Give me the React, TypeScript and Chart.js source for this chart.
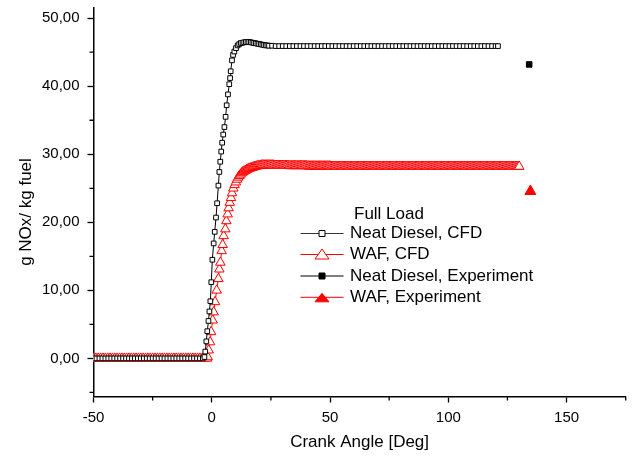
import React, { useEffect, useRef } from 'react';
import { Chart, registerables } from 'chart.js';

Chart.register(...registerables);

const FONT = "'Liberation Sans', Arial, Helvetica, sans-serif";

// ---- Neat Diesel, CFD ----
const ndCfdAngle = [
  -50, -48.75, -47.5, -46.25, -45, -43.75, -42.5, -41.25, -40, -38.75,
  -37.5, -36.25, -35, -33.75, -32.5, -31.25, -30, -28.75, -27.5, -26.25,
  -25, -23.75, -22.5, -21.25, -20, -18.75, -17.5, -16.25, -15, -13.75,
  -12.5, -11.25, -10, -8.75, -7.5, -6.25, -5, -3.75,
  -3.1, -2.75, -2.3, -1.9, -1.4, -1.0, -0.6, -0.2, 0.25, 0.8,
  1.25, 1.8, 2.25, 2.8, 3.2, 3.6, 4.0, 4.4, 4.85, 5.35,
  5.85, 6.3, 6.85, 7.4, 7.75, 8.0, 8.55, 9.0, 9.55, 10.25, 10.95,
  11.6, 12.3, 13.0, 13.7, 14.4, 15.1, 15.8, 16.5, 17.2, 17.9,
  18.6, 19.3, 20.0, 20.7, 21.4, 22.1, 22.8, 23.5, 24.2, 25.5, 27,
  28.5, 30, 31.5, 33, 34.5, 36, 37.5, 39, 40.5, 42,
  43.5, 45, 46.5, 48, 49.5, 51, 52.5, 54, 55.5, 57,
  58.5, 60, 61.5, 63, 64.5, 66, 67.5, 69, 70.5, 72,
  73.5, 75, 76.5, 78, 79.5, 81, 82.5, 84, 85.5, 87,
  88.5, 90, 91.5, 93, 94.5, 96, 97.5, 99, 100.5, 102,
  103.5, 105, 106.5, 108, 109.5, 111, 112.5, 114, 115.5, 117,
  118.5, 120, 121,
];
const ndCfdNox = [
  0, 0, 0, 0, 0, 0, 0, 0, 0, 0,
  0, 0, 0, 0, 0, 0, 0, 0, 0, 0,
  0, 0, 0, 0, 0, 0, 0, 0, 0, 0,
  0, 0, 0, 0, 0, 0, 0, 0,
  0.2, 1.0, 2.5, 4.0, 5.5, 6.9, 8.4, 11.2, 14.5, 16.9,
  18.6, 20.7, 22.8, 25.4, 27.4, 28.9, 30.4, 31.7, 32.9, 34.0,
  35.5, 37.2, 38.8, 40.3, 41.2, 42.2, 43.8, 44.6, 45.1, 45.6, 46.0,
  46.2, 46.35, 46.4, 46.45, 46.5, 46.5, 46.5, 46.45, 46.4, 46.35,
  46.3, 46.25, 46.2, 46.15, 46.1, 46.05, 46.0, 46.0, 45.95, 45.95, 45.9,
  45.9, 45.9, 45.9, 45.9, 45.9, 45.9, 45.9, 45.9, 45.9, 45.9,
  45.9, 45.9, 45.9, 45.9, 45.9, 45.9, 45.9, 45.9, 45.9, 45.9,
  45.9, 45.9, 45.9, 45.9, 45.9, 45.9, 45.9, 45.9, 45.9, 45.9,
  45.9, 45.9, 45.9, 45.9, 45.9, 45.9, 45.9, 45.9, 45.9, 45.9,
  45.9, 45.9, 45.9, 45.9, 45.9, 45.9, 45.9, 45.9, 45.9, 45.9,
  45.9, 45.9, 45.9, 45.9, 45.9, 45.9, 45.9, 45.9, 45.9, 45.9,
  45.9, 45.9, 45.9,
];

// ---- WAF, CFD ----
const wafCfdAngle = [
  -50, -49, -48, -47, -46, -45, -44, -43, -42, -41,
  -40, -39, -38, -37, -36, -35, -34, -33, -32, -31,
  -30, -29, -28, -27, -26, -25, -24, -23, -22, -21,
  -20, -19, -18, -17, -16, -15, -14, -13, -12, -11,
  -10, -9, -8, -7, -6, -5, -4, -3, -2,
  -1.7, -1.3, -0.7, -0.28, 0.38, 0.8, 1.39, 2.07, 2.79, 3.21,
  3.63, 4.18, 4.6, 5.03, 5.74, 6.17, 6.72, 7.14, 7.6, 8.15,
  8.57, 9.12, 9.67, 10.2, 10.7, 11.2, 11.7, 12.2, 12.7, 13.2,
  13.7, 14.2, 14.7, 15.2, 15.7, 16.2, 16.7, 17.2,
  17.5, 18, 18.5, 19, 19.5, 20, 20.5, 21, 21.5, 22,
  22.5, 23, 23.5, 24, 24.5, 25, 25.5, 26, 26.5, 27,
  27.5, 28, 28.5, 29, 29.5, 30, 30.5, 31, 31.5, 32,
  32.5, 33, 33.5, 34, 34.5, 35, 35.5, 36, 36.5, 37,
  37.5, 38, 38.5, 39, 39.5, 40, 40.5, 41, 41.5, 42,
  42.5, 43, 43.5, 44, 44.5, 45, 45.5, 46, 46.5, 47,
  47.5, 48, 48.5, 49, 49.5, 50, 50.5, 51, 51.5, 52,
  52.5, 53, 53.5, 54, 54.5, 55, 55.5, 56, 56.5, 57,
  57.5, 58, 58.5, 59, 59.5, 60, 60.5, 61, 61.5, 62,
  62.5, 63, 63.5, 64, 64.5, 65, 65.5, 66, 66.5, 67,
  67.5, 68, 68.5, 69, 69.5, 70, 70.5, 71, 71.5, 72,
  72.5, 73, 73.5, 74, 74.5, 75, 75.5, 76, 76.5, 77,
  77.5, 78, 78.5, 79, 79.5, 80, 80.5, 81, 81.5, 82,
  82.5, 83, 83.5, 84, 84.5, 85, 85.5, 86, 86.5, 87,
  87.5, 88, 88.5, 89, 89.5, 90, 90.5, 91, 91.5, 92,
  92.5, 93, 93.5, 94, 94.5, 95, 95.5, 96, 96.5, 97,
  97.5, 98, 98.5, 99, 99.5, 100, 100.5, 101, 101.5, 102,
  102.5, 103, 103.5, 104, 104.5, 105, 105.5, 106, 106.5, 107,
  107.5, 108, 108.5, 109, 109.5, 110, 110.5, 111, 111.5, 112,
  112.5, 113, 113.5, 114, 114.5, 115, 115.5, 116, 116.5, 117,
  117.5, 118, 118.5, 119, 119.5, 120, 120.5, 121, 121.5, 122,
  122.5, 123, 123.5, 124, 124.5, 125, 125.5, 126, 126.5, 127,
  127.5, 128, 128.5, 129, 129.5, 130, 130.5, 131, 131.5, 132,
  132.5, 133, 133.5, 134, 134.5, 135,
];
const wafCfdNox = [
  0, 0, 0, 0, 0, 0, 0, 0, 0, 0,
  0, 0, 0, 0, 0, 0, 0, 0, 0, 0,
  0, 0, 0, 0, 0, 0, 0, 0, 0, 0,
  0, 0, 0, 0, 0, 0, 0, 0, 0, 0,
  0, 0, 0, 0, 0, 0, 0, 0, 0,
  0.2, 1.2, 2.4, 3.9, 5.6, 6.8, 8.3, 10.0, 11.7, 13.1,
  14.1, 15.8, 16.7, 18.0, 19.0, 20.2, 21.2, 22.1, 22.9, 23.6,
  24.3, 25.0, 25.5, 25.9, 26.3, 26.6, 26.85, 27.05, 27.25, 27.4,
  27.5, 27.6, 27.7, 27.8, 27.9, 27.95, 28.0, 28.05,
  28.1, 28.15, 28.2, 28.25, 28.3, 28.3, 28.35, 28.4, 28.4, 28.4,
  28.4, 28.4, 28.4, 28.4, 28.4, 28.4, 28.4, 28.4, 28.35, 28.35,
  28.35, 28.35, 28.35, 28.35, 28.35, 28.35, 28.35, 28.35, 28.35, 28.35,
  28.3, 28.3, 28.3, 28.3, 28.3, 28.3, 28.3, 28.3, 28.3, 28.3,
  28.3, 28.3, 28.3, 28.3, 28.3, 28.3, 28.25, 28.25, 28.25, 28.25,
  28.25, 28.25, 28.25, 28.25, 28.25, 28.25, 28.25, 28.25, 28.25, 28.25,
  28.25, 28.25, 28.25, 28.25, 28.25, 28.25, 28.2, 28.2, 28.2, 28.2,
  28.2, 28.2, 28.2, 28.2, 28.2, 28.2, 28.2, 28.2, 28.2, 28.2,
  28.2, 28.2, 28.2, 28.2, 28.2, 28.2, 28.2, 28.2, 28.2, 28.2,
  28.2, 28.2, 28.2, 28.2, 28.2, 28.2, 28.2, 28.2, 28.2, 28.2,
  28.2, 28.2, 28.2, 28.2, 28.2, 28.2, 28.2, 28.2, 28.2, 28.2,
  28.2, 28.2, 28.2, 28.2, 28.2, 28.2, 28.2, 28.2, 28.2, 28.2,
  28.2, 28.2, 28.2, 28.2, 28.2, 28.2, 28.2, 28.2, 28.2, 28.2,
  28.2, 28.2, 28.2, 28.2, 28.2, 28.2, 28.2, 28.2, 28.2, 28.2,
  28.2, 28.2, 28.2, 28.2, 28.2, 28.2, 28.2, 28.2, 28.2, 28.2,
  28.2, 28.2, 28.2, 28.2, 28.2, 28.2, 28.2, 28.2, 28.2, 28.2,
  28.2, 28.2, 28.2, 28.2, 28.2, 28.2, 28.2, 28.2, 28.2, 28.2,
  28.2, 28.2, 28.2, 28.2, 28.2, 28.2, 28.2, 28.2, 28.2, 28.2,
  28.2, 28.2, 28.2, 28.2, 28.2, 28.2, 28.2, 28.2, 28.2, 28.2,
  28.2, 28.2, 28.2, 28.2, 28.2, 28.2, 28.2, 28.2, 28.2, 28.2,
  28.2, 28.2, 28.2, 28.2, 28.2, 28.2, 28.2, 28.2, 28.2, 28.2,
  28.2, 28.2, 28.2, 28.2, 28.2, 28.2, 28.2, 28.2, 28.2, 28.2,
  28.2, 28.2, 28.2, 28.2, 28.2, 28.2,
];

// ---- Experiments ----
const ndExpAngle = [134.2];
const ndExpNox = [43.2];
const wafExpAngle = [134.7];
const wafExpNox = [24.55];

// ---- Axes / text ----
const xMajorTicks = [-50, 0, 50, 100, 150];
const xMinorTicks = [-25, 25, 75, 125, 175];
const yMajorTicks = [0, 10, 20, 30, 40, 50];
const yMinorTicks = [-5, 5, 15, 25, 35, 45];
const xTitle = 'Crank Angle [Deg]';
const yTitle = 'g NOx/ kg fuel';
const legendTitle = 'Full Load';
const seriesLabels = ['Neat Diesel, CFD', 'WAF, CFD', 'Neat Diesel, Experiment', 'WAF, Experiment'];

const toPoints = (xs: number[], ys: number[]) => xs.map((x, i) => ({ x, y: ys[i] }));

const decorPlugin = {
  id: 'decor',
  afterDraw(chart: any) {
    const { ctx, scales } = chart;
    const xs = scales.x;
    const ys = scales.y;
    ctx.save();
    // minor ticks
    ctx.strokeStyle = '#000';
    ctx.lineWidth = 1.3;
    ctx.beginPath();
    xMinorTicks.forEach((v) => {
      const p = xs.getPixelForValue(v);
      ctx.moveTo(p, xs.top);
      ctx.lineTo(p, xs.top + 4);
    });
    yMinorTicks.forEach((v) => {
      const p = ys.getPixelForValue(v);
      ctx.moveTo(ys.right, p);
      ctx.lineTo(ys.right - 4, p);
    });
    ctx.stroke();
    ctx.restore();

    // y title
    ctx.save();
    ctx.fillStyle = '#000';
    ctx.font = `17px ${FONT}`;
    ctx.translate(26, 212);
    ctx.rotate(-Math.PI / 2);
    ctx.textAlign = 'center';
    ctx.textBaseline = 'middle';
    ctx.fillText(yTitle, 0, 0);
    ctx.restore();

    // legend
    ctx.save();
    ctx.font = `17px ${FONT}`;
    ctx.fillStyle = '#000';
    ctx.textBaseline = 'middle';
    ctx.textAlign = 'left';
    ctx.fillText(legendTitle, 354, 214);
    const rowY = [233.5, 254.5, 276, 297.3];
    const styles = [
      { line: '#333', stroke: '#000', fill: '#fff', shape: 'square' },
      { line: '#ff0000', stroke: '#ff0000', fill: '#fff', shape: 'tri' },
      { line: '#000', stroke: '#000', fill: '#000', shape: 'square' },
      { line: '#ff0000', stroke: '#ff0000', fill: '#ff0000', shape: 'tri' },
    ];
    const mx = 322;
    seriesLabels.forEach((label, i) => {
      const y = rowY[i];
      const st = styles[i];
      ctx.strokeStyle = st.line;
      ctx.lineWidth = 1;
      ctx.beginPath();
      ctx.moveTo(300.5, y);
      ctx.lineTo(343.5, y);
      ctx.stroke();
      ctx.beginPath();
      if (st.shape === 'square') {
        ctx.rect(mx - 3, y - 3, 6, 6);
      } else if (i === 1) {
        ctx.moveTo(mx, y - 5.5);
        ctx.lineTo(mx + 7, y + 4.5);
        ctx.lineTo(mx - 7, y + 4.5);
        ctx.closePath();
      } else {
        ctx.moveTo(mx, y - 4);
        ctx.lineTo(mx + 7, y + 4.5);
        ctx.lineTo(mx - 7, y + 4.5);
        ctx.closePath();
      }
      ctx.fillStyle = st.fill;
      ctx.fill();
      ctx.strokeStyle = st.stroke;
      ctx.lineWidth = 1;
      ctx.stroke();
      ctx.fillStyle = '#000';
      ctx.fillText(label, 350, y);
    });
    ctx.restore();
  },
};

export default function App() {
  const canvasRef = useRef<HTMLCanvasElement | null>(null);

  useEffect(() => {
    document.body.style.margin = '0';
    const canvas = canvasRef.current;
    if (!canvas) return;
    const chart = new Chart(canvas, {
      type: 'scatter',
      data: {
        datasets: [
          {
            label: seriesLabels[0],
            data: toPoints(ndCfdAngle, ndCfdNox),
            showLine: true,
            borderColor: '#000',
            borderWidth: 1,
            pointStyle: 'rect',
            pointRadius: 3.3,
            pointHoverRadius: 3.3,
            pointBackgroundColor: '#fff',
            pointBorderColor: '#000',
            pointBorderWidth: 1,
          },
          {
            label: seriesLabels[1],
            data: toPoints(wafCfdAngle, wafCfdNox),
            showLine: true,
            borderColor: '#ff0000',
            borderWidth: 1,
            pointStyle: 'triangle',
            pointRadius: 5.5,
            pointHoverRadius: 5.5,
            pointBackgroundColor: '#fff',
            pointBorderColor: '#ff0000',
            pointBorderWidth: 1,
          },
          {
            label: seriesLabels[2],
            data: toPoints(ndExpAngle, ndExpNox),
            showLine: false,
            pointStyle: 'rect',
            pointRadius: 3.9,
            pointHoverRadius: 3.9,
            pointBackgroundColor: '#000',
            pointBorderColor: '#000',
            pointBorderWidth: 1,
          },
          {
            label: seriesLabels[3],
            data: toPoints(wafExpAngle, wafExpNox),
            showLine: false,
            pointStyle: 'triangle',
            pointRadius: 6.3,
            pointHoverRadius: 6.3,
            pointBackgroundColor: '#ff0000',
            pointBorderColor: '#ff0000',
            pointBorderWidth: 1,
          },
        ],
      },
      options: {
        responsive: false,
        animation: false,
        devicePixelRatio: 1,
        events: [],
        layout: { padding: { top: 5, right: 6.3, left: 0, bottom: 0 } },
        plugins: {
          legend: { display: false },
          tooltip: { enabled: false },
        },
        scales: {
          x: {
            type: 'linear',
            min: -50,
            max: 175,
            afterBuildTicks: (s: any) => {
              s.ticks = xMajorTicks.map((v) => ({ value: v }));
            },
            afterFit: (s: any) => {
              s.height = 60.5;
              s.paddingLeft = 0;
              s.paddingRight = 0;
            },
            ticks: {
              color: '#000',
              font: { size: 15, family: FONT },
              padding: 6,
              maxRotation: 0,
              autoSkip: false,
              callback: (v: any) => String(v),
            },
            grid: {
              drawOnChartArea: false,
              drawTicks: true,
              tickLength: 6,
              tickWidth: 1.3,
              tickColor: '#000',
            },
            border: { display: true, color: '#000', width: 1.5 },
            title: {
              display: true,
              text: xTitle,
              color: '#000',
              font: { size: 17, family: FONT },
              padding: { top: 0, bottom: 4 },
            },
          },
          y: {
            type: 'linear',
            min: -5.6,
            max: 51.6,
            afterBuildTicks: (s: any) => {
              s.ticks = yMajorTicks.map((v) => ({ value: v }));
            },
            afterFit: (s: any) => {
              s.width = 93.5;
              s.paddingTop = 0;
              s.paddingBottom = 0;
            },
            ticks: {
              color: '#000',
              font: { size: 15, family: FONT },
              padding: 8,
              autoSkip: false,
              callback: (v: any) => Number(v).toFixed(2).replace('.', ','),
            },
            grid: {
              drawOnChartArea: false,
              drawTicks: true,
              tickLength: 6,
              tickWidth: 1.3,
              tickColor: '#000',
            },
            border: { display: true, color: '#000', width: 1.5 },
            title: { display: false },
          },
        },
      },
      plugins: [decorPlugin],
    } as any);
    return () => chart.destroy();
  }, []);

  return (
    <div style={{ width: 633, height: 457 }}>
      <canvas ref={canvasRef} width={633} height={457} style={{ display: 'block' }} />
    </div>
  );
}
